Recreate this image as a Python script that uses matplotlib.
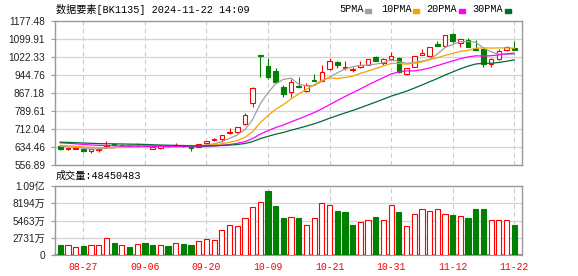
import numpy as np
import pandas as pd
import matplotlib
matplotlib.use("Agg")
import matplotlib.pyplot as plt
from matplotlib.patches import Rectangle

plt.rcParams['font.family'] = ['Liberation Sans', 'Noto Sans CJK SC']
MONO = ['Liberation Mono', 'Noto Sans CJK SC']

# 窗口之前 29 个交易日的收盘价（估计值，只用来算均线）
hist_close = [668, 665, 662, 660, 664, 661, 658, 657, 660, 655,
              670, 675, 672, 668, 664, 660, 662, 656, 652, 651,
              650, 648, 645, 642, 640, 642, 640, 638, 638]

# 2024-08-22 .. 2024-11-22 的日K
opens = [638.3, 623.9, 626.7, 623.9, 618.0, 621.1, 636.9, 646.9, 638.3, 642.0,
         640.5, 646.9, 626.7, 629.7, 641.0, 640.0, 641.0, 634.7, 634.0, 649.9,
         664.2, 667.1, 692.9, 697.2, 733.0, 822.1, 1028.6, 982.5, 961.1, 893.5,
         869.4, 897.8, 875.0, 922.3, 919.3, 968.3, 999.8, 974.0, 965.4, 979.5,
         988.1, 1020.0, 994.2, 1011.4, 1015.7, 948.1, 979.5, 1031.2, 1025.6, 1077.2,
         1069.9, 1120.3, 1082.8, 1094.4, 1057.0, 1054.4, 991.2, 1011.4, 1051.4, 1058.7]
highs = [640.0, 631.0, 631.5, 625.0, 625.0, 628.0, 659.9, 651.2, 645.5, 645.0,
         651.0, 648.0, 634.0, 642.5, 643.0, 651.0, 643.0, 636.0, 646.5, 659.5,
         672.8, 686.0, 715.8, 721.0, 779.0, 893.5, 1029.0, 1015.7, 975.3, 900.8,
         925.3, 933.9, 908.1, 948.1, 986.9, 1015.7, 1002.8, 1002.8, 976.9, 1002.8,
         1013.0, 1025.6, 1017.0, 1041.5, 1020.0, 974.0, 1027.0, 1054.4, 1065.6, 1090.1,
         1117.0, 1125.8, 1099.0, 1101.7, 1094.4, 1058.7, 1015.7, 1054.4, 1068.6, 1090.1]
lows = [621.1, 622.0, 623.9, 612.5, 609.5, 614.0, 635.3, 638.3, 637.0, 637.0,
        636.0, 639.0, 623.9, 623.9, 635.0, 637.0, 634.0, 617.9, 632.0, 648.0,
        658.5, 655.5, 691.0, 696.0, 728.7, 807.4, 936.5, 925.3, 908.1, 850.5,
        850.5, 892.0, 872.0, 917.0, 918.0, 965.4, 972.7, 965.4, 958.0, 972.7,
        986.0, 1004.0, 986.9, 1010.0, 951.1, 943.8, 978.0, 1028.6, 1022.6, 1069.0,
        1068.0, 1080.2, 1065.6, 1063.0, 1052.0, 979.5, 976.9, 1008.4, 1045.8, 1052.0]
closes = [626.7, 629.7, 630.5, 616.8, 623.9, 626.7, 642.6, 641.3, 643.9, 640.0,
          642.5, 641.3, 632.7, 641.3, 638.3, 642.6, 637.0, 629.7, 645.7, 658.5,
          667.1, 684.4, 698.6, 720.1, 770.4, 887.9, 1025.6, 933.9, 915.0, 862.1,
          913.7, 893.5, 900.8, 918.0, 958.0, 1004.1, 985.6, 979.5, 968.4, 988.1,
          1011.4, 1005.4, 1011.4, 1025.6, 955.4, 972.7, 1025.6, 1037.2, 1063.0, 1069.9,
          1115.9, 1091.4, 1097.5, 1065.6, 1052.7, 989.9, 1011.4, 1048.4, 1063.0, 1052.7]
# 成交量（股）
volumes = [16300000, 16300000, 12600000, 14700000, 16300000, 16300000, 26800000, 19400000, 16300000, 13100000,
           17900000, 19400000, 16300000, 16300000, 14700000, 19400000, 17900000, 16300000, 22600000, 25700000,
           24200000, 39900000, 47800000, 45700000, 58300000, 75600000, 83500000, 101300000, 78200000, 58300000,
           60400000, 58300000, 47800000, 58300000, 81900000, 79300000, 69800000, 68300000, 47800000, 52000000,
           55100000, 60400000, 55100000, 79300000, 68300000, 46200000, 65100000, 72500000, 69300000, 72500000,
           65100000, 63500000, 62000000, 58800000, 73000000, 73000000, 55100000, 55100000, 55100000, 48450483]

holidays = ['2024-09-16', '2024-09-17', '2024-10-01', '2024-10-02', '2024-10-03',
            '2024-10-04', '2024-10-07']
tick_labels = ['08-27', '09-06', '09-20', '10-09', '10-21', '10-31', '11-12', '11-22']
price_ticks = [556.89, 634.46, 712.04, 789.61, 867.18, 944.76, 1022.33, 1099.91, 1177.48]
vol_ticks = [0, 27314000, 54628000, 81942000, 109256000]
vol_tick_labels = ['0', '2731万', '5463万', '8194万', '1.09亿']
ma_windows = [5, 10, 20, 30]
ma_names = ['5PMA', '10PMA', '20PMA', '30PMA']

RED = '#ff0000'
GREEN = '#008000'
ma_colors = ['#a0a0a0', '#f5a300', '#ff00ff', '#006b33']

dates = pd.bdate_range('2024-08-22', '2024-11-22')
dates = dates[~dates.isin(pd.to_datetime(holidays))]
x = np.arange(len(dates))
o, h, l, c = map(np.array, (opens, highs, lows, closes))
up = c >= o
vol_up = np.diff(np.r_[hist_close[-1], c]) >= 0

fig = plt.figure(figsize=(5.78, 2.76), dpi=100)
ax1 = fig.add_axes([0.096, 0.4025, 0.807, 0.5225])
ax2 = fig.add_axes([0.096, 0.075, 0.807, 0.251])

tick_pos = [i for i, d in enumerate(dates) if d.strftime('%m-%d') in tick_labels]

for ax in (ax1, ax2):
    ax.set_xlim(-0.62, 60.0)
    for s in ax.spines.values():
        s.set_color('#999999')
        s.set_linewidth(1.0)
    ax.grid(axis='y', color='#d4d4d4', lw=0.9)
    for p in tick_pos:
        ax.axvline(p, color='#cccccc', lw=0.8, ls=(0, (4, 3)), zorder=0)
    ax.set_axisbelow(True)
    ax.tick_params(axis='y', length=3, width=0.8, color='#999999', pad=4.5,
                   labelsize=7.3, labelcolor='#222222')
ax2.spines['bottom'].set_linewidth(1.5)

# 日K
ax1.vlines(x, l, h, colors=np.where(up, RED, GREEN), lw=0.8, zorder=2)
body = np.maximum(np.abs(c - o), 0.5)
ax1.bar(x, body, bottom=np.minimum(o, c), width=0.6,
        color=np.where(up, 'white', GREEN), edgecolor=np.where(up, RED, GREEN),
        lw=0.8, zorder=3)

# 均线
all_close = pd.Series(hist_close + closes)
for w, col in zip(ma_windows, ma_colors):
    ma = all_close.rolling(w).mean().iloc[len(hist_close):].values
    ax1.plot(x, ma, color=col, lw=0.9, zorder=4)

ax1.set_ylim(price_ticks[0], price_ticks[-1])
ax1.set_yticks(price_ticks)
ax1.set_yticklabels([f'{v:.2f}' for v in price_ticks])
ax1.set_xticks([])

# 成交量
ax2.bar(x, volumes, width=0.68, color=np.where(vol_up, 'white', GREEN),
        edgecolor=np.where(vol_up, RED, GREEN), lw=0.8, zorder=3)
ax2.set_ylim(vol_ticks[0], vol_ticks[-1])
ax2.set_yticks(vol_ticks)
ax2.set_yticklabels(vol_tick_labels)
ax2.set_xticks(tick_pos)
ax2.set_xticklabels(tick_labels, family=MONO, fontsize=7, color=RED)
ax2.tick_params(axis='x', length=0, pad=4.5)

# 标题和图例
W, H = 578, 276
fig.text(56 / W, 1 - 9.5 / H, '数据要素[BK1135] 2024-11-22 14:09', family=MONO,
         fontsize=7.3, color='black', ha='left', va='center')
for name, col, tx, sx in zip(ma_names, ma_colors, [339, 381, 426, 472], [365, 413, 459, 505]):
    fig.text(tx / W, 1 - 9.5 / H, name, family=MONO, fontsize=7.3, color='black',
             ha='left', va='center')
    fig.patches.append(Rectangle((sx / W, 1 - 12.5 / H), 6 / W, 4 / H,
                                 transform=fig.transFigure, color=col))
fig.text(56 / W, 1 - 176 / H, f'成交量:{volumes[-1]}', family=MONO, fontsize=7.3,
         color='black', ha='left', va='center')

fig.savefig('out.png', dpi=100, facecolor='white')
